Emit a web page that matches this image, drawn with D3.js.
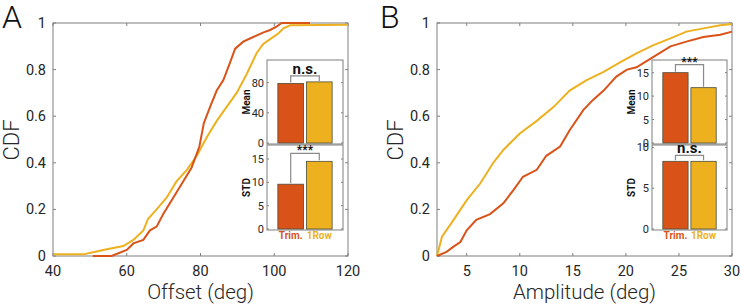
<!DOCTYPE html>
<html>
<head>
<meta charset="utf-8">
<script src="https://cdn.jsdelivr.net/npm/d3@7"></script>
<style>
  body { margin: 0; background: #fff; }
  svg text { font-family: Roboto, "Liberation Sans", sans-serif; }
</style>
</head>
<body>
<div id="chart"></div>
<script>
// CDF curves
var offsetTrim = [[50.8,0],[55.9,0],[60,0.026],[61.8,0.054],[64.5,0.069],[66.3,0.11],[68.1,0.126],[69.9,0.18],
  [72.6,0.25],[75.3,0.32],[77.6,0.38],[79.7,0.47],[80.9,0.57],[82.6,0.64],[84.4,0.71],[86.2,0.755],[88.0,0.83],
  [89.4,0.89],[91.6,0.92],[94.3,0.94],[97.1,0.96],[98.9,0.97],[100.7,0.985],[102.0,1],[109.7,1]];
var offsetRow = [[40,0.007],[48.2,0.007],[50.9,0.016],[54.6,0.029],[59.1,0.043],[61.8,0.069],[64.5,0.11],[65.8,0.16],
  [68.1,0.2],[70.8,0.25],[73.5,0.32],[76.3,0.37],[79.0,0.43],[81.7,0.51],[84.4,0.58],[87.1,0.64],[89.8,0.7],
  [92.5,0.78],[95.2,0.87],[97.0,0.91],[98.8,0.93],[101.1,0.955],[102.5,0.977],[104.3,0.99],[120,0.993]];
var ampTrim = [[2.2,0],[3.1,0.018],[3.76,0.04],[4.4,0.06],[5.0,0.11],[5.9,0.155],[7.2,0.18],[8.45,0.226],[9.4,0.283],
  [10.3,0.34],[11.6,0.37],[12.5,0.43],[13.8,0.47],[14.7,0.54],[16.0,0.627],[16.9,0.67],[17.9,0.71],[19.1,0.77],
  [20.1,0.8],[21.0,0.81],[22.6,0.855],[24.2,0.9],[25.7,0.92],[27.3,0.94],[28.9,0.95],[30,0.963]];
var ampRow = [[2.2,0],[2.67,0.083],[3.76,0.155],[5.0,0.24],[6.25,0.31],[7.5,0.4],[8.45,0.455],[10.0,0.526],[11.6,0.58],
  [13.2,0.64],[14.7,0.71],[16.3,0.755],[17.9,0.79],[19.4,0.83],[21.0,0.87],[22.6,0.905],[24.2,0.934],[25.7,0.963],
  [27.3,0.977],[28.9,0.99],[30,0.996]];

// inset bars
var groups = ["Trim.", "1Row"];
var offsetMean = [79, 81];
var offsetStd = [9.6, 14.5];
var ampMean = [15, 11.8];
var ampStd = [8.3, 8.3];

var cdfTicks = [0, 0.2, 0.4, 0.6, 0.8, 1];
var offsetTicks = [40, 60, 80, 100, 120];
var ampTicks = [5, 10, 15, 20, 25, 30];

var colTrim = "#d95319", colRow = "#edb120";
var axisCol = "#7f7f7f", textCol = "#262626";

var svg = d3.select("#chart").append("svg").attr("width", 740).attr("height", 304);

function drawPanel(o) {
  var g = svg.append("g");
  var x = d3.scaleLinear().domain(o.xDomain).range([o.left, o.right]);
  var y = d3.scaleLinear().domain([0, 1]).range([256, 23]);

  // box
  g.append("rect").attr("x", o.left).attr("y", 23).attr("width", o.right - o.left).attr("height", 233)
    .attr("fill", "none").attr("stroke", axisCol).attr("stroke-width", 1);

  // ticks inside (bottom/top, left/right)
  o.xTicks.forEach(function(t) {
    g.append("line").attr("x1", x(t)).attr("x2", x(t)).attr("y1", 256).attr("y2", 253).attr("stroke", axisCol);
    g.append("line").attr("x1", x(t)).attr("x2", x(t)).attr("y1", 23).attr("y2", 26).attr("stroke", axisCol);
    g.append("text").attr("x", x(t)).attr("y", 276).attr("text-anchor", "middle")
      .attr("font-size", 14.5).attr("fill", textCol).text(t);
  });
  cdfTicks.forEach(function(t) {
    g.append("line").attr("x1", o.left).attr("x2", o.left + 3).attr("y1", y(t)).attr("y2", y(t)).attr("stroke", axisCol);
    g.append("line").attr("x1", o.right).attr("x2", o.right - 3).attr("y1", y(t)).attr("y2", y(t)).attr("stroke", axisCol);
    g.append("text").attr("x", o.left - 7).attr("y", y(t) + 5).attr("text-anchor", "end")
      .attr("font-size", 14.5).attr("fill", textCol).text(t);
  });

  // curves
  var line = d3.line().x(function(d) { return x(d[0]); }).y(function(d) { return y(d[1]); });
  g.append("path").datum(o.row).attr("d", line).attr("fill", "none").attr("stroke", colRow).attr("stroke-width", 2);
  g.append("path").datum(o.trim).attr("d", line).attr("fill", "none").attr("stroke", colTrim).attr("stroke-width", 2);

  // labels
  g.append("text").attr("transform", "translate(" + (o.left - 34) + ",140) rotate(-90)")
    .attr("text-anchor", "middle").attr("font-size", 22).attr("font-weight", 300).attr("fill", textCol).text("CDF");
  g.append("text").attr("x", (o.left + o.right) / 2).attr("y", 299).attr("text-anchor", "middle")
    .attr("font-size", 20.5).attr("font-weight", 300).attr("fill", textCol).text(o.xLabel);
  g.append("text").attr("x", o.letterX).attr("y", 28).attr("font-size", 32).attr("font-weight", 300)
    .attr("fill", "#111").text(o.letter);

  // insets
  drawInset(g, o.inset, 60, 144, o.mean, o.meanDomain, o.meanTicks, "Mean", o.meanSig, false);
  drawInset(g, o.inset, 145, 230, o.std, o.stdDomain, o.stdTicks, "STD", o.stdSig, true);
}

function drawInset(g, ix, top, bottom, vals, dom, ticks, label, sig, showCats) {
  var ig = g.append("g");
  ig.append("rect").attr("x", ix[0]).attr("y", top).attr("width", ix[1] - ix[0]).attr("height", bottom - top)
    .attr("fill", "#fff").attr("stroke", axisCol);
  var y = d3.scaleLinear().domain(dom).range([bottom - 1, top]);
  var x = d3.scaleBand().domain(groups).range([ix[0] + 8, ix[1] - 8]).paddingInner(0.1).paddingOuter(0.1);

  ticks.forEach(function(t) {
    ig.append("line").attr("x1", ix[0]).attr("x2", ix[0] + 2).attr("y1", y(t)).attr("y2", y(t)).attr("stroke", axisCol);
    ig.append("line").attr("x1", ix[1]).attr("x2", ix[1] - 2).attr("y1", y(t)).attr("y2", y(t)).attr("stroke", axisCol);
    ig.append("text").attr("x", ix[0] - 3).attr("y", y(t) + 4).attr("text-anchor", "end")
      .attr("font-size", 11).attr("fill", textCol).text(t);
  });

  ig.selectAll("rect.bar").data(vals).enter().append("rect").attr("class", "bar")
    .attr("x", function(d, i) { return x(groups[i]); })
    .attr("y", function(d) { return y(d); })
    .attr("width", x.bandwidth())
    .attr("height", function(d) { return y(0) - y(d); })
    .attr("fill", function(d, i) { return i === 0 ? colTrim : colRow; })
    .attr("stroke", "#4d4d3a").attr("stroke-width", 0.8);

  // significance bracket
  var cx0 = x(groups[0]) + x.bandwidth() / 2, cx1 = x(groups[1]) + x.bandwidth() / 2;
  var hy = Math.min(y(vals[0]), y(vals[1])) - (sig === "n.s." ? 6 : 8);
  ig.append("path").attr("d", "M" + cx0 + "," + (y(vals[0]) - 1) + "V" + hy + "H" + cx1 + "V" + (y(vals[1]) - 1))
    .attr("fill", "none").attr("stroke", "#8a8a8a").attr("stroke-width", 1.2);
  ig.append("text").attr("x", (cx0 + cx1) / 2).attr("y", hy - (sig === "n.s." ? 2 : -1))
    .attr("text-anchor", "middle").attr("font-weight", "bold").attr("fill", "#111")
    .attr("font-size", sig === "n.s." ? 15 : 12).text(sig);

  // y label
  ig.append("text").attr("transform", "translate(" + (ix[0] - 17) + "," + ((top + bottom) / 2) + ") rotate(-90)")
    .attr("text-anchor", "middle").attr("font-size", 10).attr("font-weight", "bold").attr("fill", "#111").text(label);

  if (showCats) {
    groups.forEach(function(gname, i) {
      ig.append("text").attr("x", x(gname) + x.bandwidth() / 2).attr("y", bottom + 9).attr("text-anchor", "middle")
        .attr("font-size", 10).attr("font-weight", "bold").attr("fill", i === 0 ? colTrim : colRow).text(gname);
    });
  }
}

drawPanel({ letter: "A", letterX: 2, left: 53, right: 348, xDomain: [40, 120], xTicks: offsetTicks, xLabel: "Offset (deg)",
  trim: offsetTrim, row: offsetRow, inset: [267, 343],
  mean: offsetMean, meanDomain: [0, 110], meanTicks: [0, 40, 80], meanSig: "n.s.",
  std: offsetStd, stdDomain: [0, 18], stdTicks: [0, 5, 10, 15], stdSig: "***" });

drawPanel({ letter: "B", letterX: 380, left: 437, right: 732, xDomain: [2.2, 30], xTicks: ampTicks, xLabel: "Amplitude (deg)",
  trim: ampTrim, row: ampRow, inset: [652, 727],
  mean: ampMean, meanDomain: [0, 17.7], meanTicks: [0, 5, 10, 15], meanSig: "***",
  std: ampStd, stdDomain: [0, 10.3], stdTicks: [0, 5, 10], stdSig: "n.s." });
</script>
</body>
</html>
